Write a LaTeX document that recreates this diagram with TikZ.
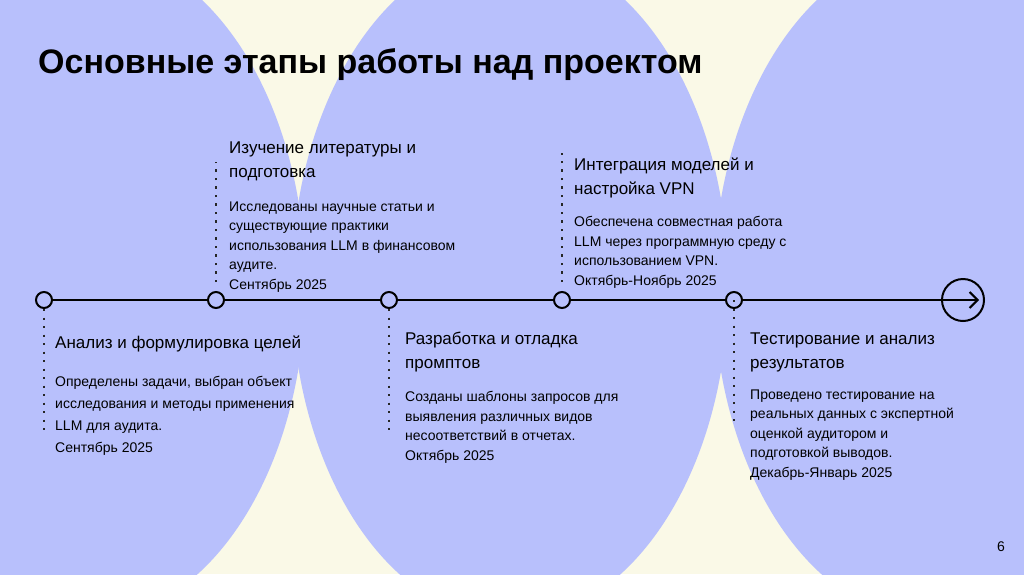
\documentclass[tikz,border=0pt]{standalone}
\usepackage{fontspec}
\setmainfont{Liberation Sans}
\usetikzlibrary{arrows.meta,positioning}
\definecolor{bgblue}{RGB}{184,192,252}
\definecolor{bgcream}{RGB}{250,249,231}
\tikzset{
    stage/.style = {circle, draw=black, fill=bgblue, line width=2pt, minimum size=16pt, inner sep=0pt},
    timeline/.style = {line width=2pt, draw=black},
    dots/.style = {line width=2.2pt, dash pattern=on 2.2pt off 6.3pt, draw=black!85},
    head/.style = {anchor=base west, align=left, inner sep=0pt, font=\fontsize{17}{24}\selectfont},
    body/.style = {anchor=base west, align=left, inner sep=0pt, font=\fontsize{14}{19.5}\selectfont},
}
\begin{document}
\begin{tikzpicture}[x=1pt, y=-1pt]
    \useasboundingbox (0,0) rectangle (1024,574);
    % background
    \begin{scope}
        \clip (0,0) rectangle (1024,574);
        \fill[bgcream] (0,0) rectangle (1024,574);
        \fill[bgblue] (87,285) ellipse [x radius=218.3pt, y radius=335.3pt];
        \fill[bgblue] (510,285) ellipse [x radius=218.3pt, y radius=335.3pt];
        \fill[bgblue] (932,285) ellipse [x radius=218.3pt, y radius=335.3pt];
    \end{scope}
    % title
    \node[anchor=base west, inner sep=0pt, font=\fontsize{34}{40}\selectfont\bfseries] (title) at (38,73) {Основные этапы работы над проектом};
    % timeline
    \node[stage] (c1) at (44,300) {};
    \node[stage] (c2) at (216,300) {};
    \node[stage] (c3) at (389,300) {};
    \node[stage] (c4) at (562,300) {};
    \node[stage] (c5) at (734,300) {};
    \node[circle, draw=black, line width=2pt, minimum size=42pt, inner sep=0pt] (end) at (963,300) {};
    \coordinate (tip) at (979,300);
    \draw[timeline] (c1) -- (c2);
    \draw[timeline] (c2) -- (c3);
    \draw[timeline] (c3) -- (c4);
    \draw[timeline] (c4) -- (c5);
    \draw[timeline, -{Straight Barb[length=8pt, width=16pt, line width=2pt]}] (c5) -- (tip);
    % dotted leaders
    \coordinate (d1) at (44,433);
    \coordinate (d2) at (216,162);
    \coordinate (d3) at (389,433);
    \coordinate (d4) at (562,153);
    \coordinate (d5) at (734,424);
    \draw[dots] (c1.south) -- (d1);
    \draw[dots] ([yshift=9pt]c2.north) -- (d2);
    \draw[dots] (c3.south) -- (d3);
    \draw[dots] ([yshift=9pt]c4.north) -- (d4);
    \draw[dots] (c5.center) -- (d5);
    % stage texts (anchored at the baseline of the last line)
    \node[head] (h1) at (55,348) {Анализ и формулировка целей};
    \node[body, font=\fontsize{14}{22}\selectfont] (b1) at (55,452) {Определены задачи, выбран объект\\исследования и методы применения\\LLM для аудита.\\Сентябрь 2025};
    \node[head] (h2) at (229,177) {Изучение литературы и\\подготовка};
    \node[body] (b2) at (229,289) {Исследованы научные статьи и\\существующие практики\\использования LLM в финансовом\\аудите.\\Сентябрь 2025};
    \node[head] (h3) at (405,368) {Разработка и отладка\\промптов};
    \node[body] (b3) at (405,460) {Созданы шаблоны запросов для\\выявления различных видов\\несоответствий в отчетах.\\Октябрь 2025};
    \node[head] (h4) at (574,194) {Интеграция моделей и\\настройка VPN};
    \node[body] (b4) at (574,285) {Обеспечена совместная работа\\LLM через программную среду с\\использованием VPN.\\Октябрь-Ноябрь 2025};
    \node[head] (h5) at (750,368) {Тестирование и анализ\\результатов};
    \node[body] (b5) at (750,477) {Проведено тестирование на\\реальных данных с экспертной\\оценкой аудитором и\\подготовкой выводов.\\Декабрь-Январь 2025};
    % page number
    \node[anchor=base east, inner sep=0pt, font=\fontsize{14}{16}\selectfont] (pnum) at (1005,551) {6};
\end{tikzpicture}
\end{document}
